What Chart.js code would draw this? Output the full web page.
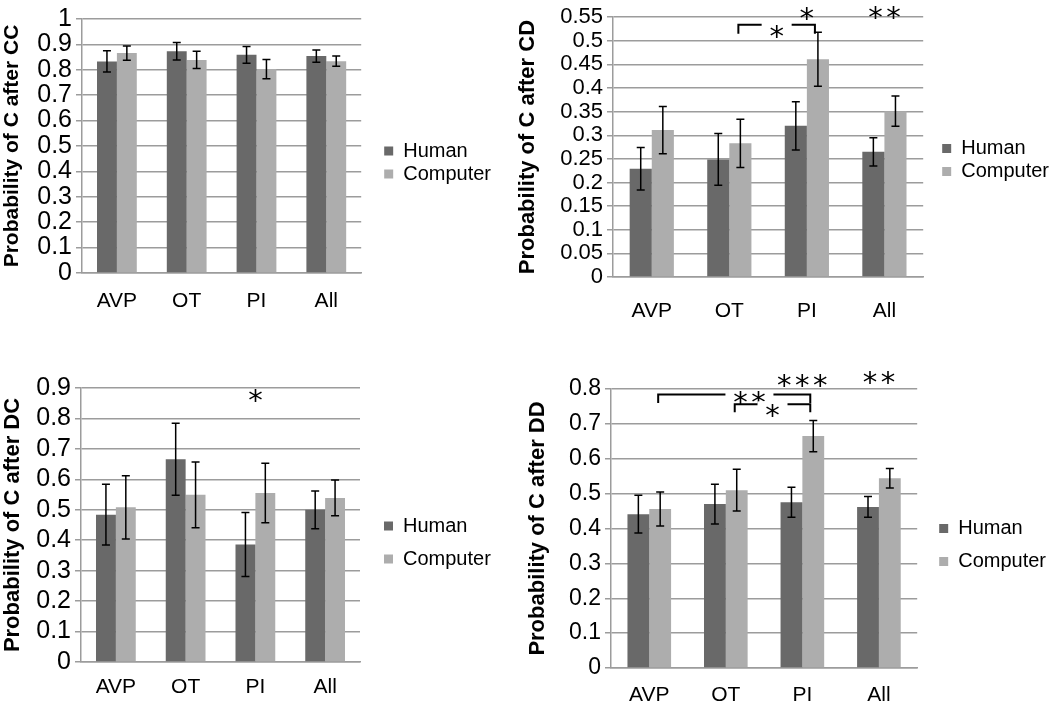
<!DOCTYPE html>
<html>
<head>
<meta charset="utf-8">
<script src="https://cdn.jsdelivr.net/npm/chart.js@4"></script>
<style>
  body { margin: 0; background: #fff; }
  .panel { position: absolute; }
</style>
</head>
<body>
<div class="panel" style="left:0;top:0"><canvas id="cc" width="505" height="345"></canvas></div>
<div class="panel" style="left:505px;top:0"><canvas id="cd" width="545" height="345"></canvas></div>
<div class="panel" style="left:0;top:345px"><canvas id="dc" width="505" height="360"></canvas></div>
<div class="panel" style="left:505px;top:345px"><canvas id="dd" width="545" height="360"></canvas></div>
<script>
// Datos
const categories = ['AVP', 'OT', 'PI', 'All'];

const ccHuman = [0.833, 0.873, 0.859, 0.854];
const ccHumanErr = [0.042, 0.034, 0.033, 0.024];
const ccComputer = [0.866, 0.839, 0.803, 0.834];
const ccComputerErr = [0.028, 0.034, 0.038, 0.020];

const cdHuman = [0.229, 0.249, 0.320, 0.265];
const cdHumanErr = [0.045, 0.055, 0.051, 0.030];
const cdComputer = [0.311, 0.283, 0.461, 0.351];
const cdComputerErr = [0.050, 0.051, 0.057, 0.032];

const dcHuman = [0.484, 0.666, 0.386, 0.500];
const dcHumanErr = [0.100, 0.118, 0.105, 0.062];
const dcComputer = [0.508, 0.549, 0.555, 0.539];
const dcComputerErr = [0.104, 0.108, 0.098, 0.059];

const ddHuman = [0.441, 0.470, 0.475, 0.462];
const ddHumanErr = [0.054, 0.057, 0.043, 0.030];
const ddComputer = [0.456, 0.510, 0.665, 0.544];
const ddComputerErr = [0.049, 0.060, 0.045, 0.028];

// Significancia (categoria, valor)
const cdBrackets = [{ from: 1, to: 2, y: 0.534, drop: 0.515, text: '*', at: 0.5, ty: 0.525 }];
const cdStars = [{ cat: 2, y: 0.563, text: '*' }, { cat: 3, y: 0.565, text: '**' }];
const dcBrackets = [];
const dcStars = [{ cat: 2, y: 0.883, text: '*' }];
const ddBrackets = [
  { from: 0, to: 2, y: 0.784, drop: 0.760, text: '**', at: 0.6, ty: 0.783 },
  { from: 1, to: 2, y: 0.756, drop: 0.733, text: '*', at: 0.5, ty: 0.746 }
];
const ddStars = [{ cat: 2, y: 0.832, text: '***' }, { cat: 3, y: 0.840, text: '**' }];

Chart.defaults.font.family = "'Liberation Sans', Arial, sans-serif";
Chart.defaults.color = '#000';

const GRID = '#9c9c9c';
const DARK = '#696969';
const LIGHT = '#adadad';

// Barras de error
const errorBars = {
  id: 'errorBars',
  afterDatasetsDraw(chart) {
    const ctx = chart.ctx, y = chart.scales.y;
    ctx.save();
    ctx.strokeStyle = '#000';
    ctx.lineWidth = 1.5;
    chart.data.datasets.forEach((ds, i) => {
      chart.getDatasetMeta(i).data.forEach((bar, j) => {
        const top = y.getPixelForValue(ds.data[j] + ds.err[j]);
        const bot = y.getPixelForValue(ds.data[j] - ds.err[j]);
        ctx.beginPath();
        ctx.moveTo(bar.x, top); ctx.lineTo(bar.x, bot);
        ctx.moveTo(bar.x - 4, top); ctx.lineTo(bar.x + 4, top);
        ctx.moveTo(bar.x - 4, bot); ctx.lineTo(bar.x + 4, bot);
        ctx.stroke();
      });
    });
    ctx.restore();
  }
};

function drawStars(ctx, text, cx, cy) {
  const gap = 18;
  const n = text.length;
  for (let k = 0; k < n; k++) {
    ctx.fillText('*', cx + (k - (n - 1) / 2) * gap, cy + 17);
  }
}

function makePanel(id, cfg) {
  const sigMarks = {
    id: 'sigMarks',
    afterDraw(chart) {
      const ctx = chart.ctx, y = chart.scales.y, x = chart.scales.x;
      const comp = chart.getDatasetMeta(1).data;
      ctx.save();
      ctx.strokeStyle = '#000';
      ctx.fillStyle = '#000';
      ctx.lineWidth = 2;
      ctx.font = "29px 'DejaVu Sans'";
      ctx.textAlign = 'center';
      cfg.brackets.forEach(b => {
        const x1 = comp[b.from].x - 2, x2 = comp[b.to].x - 3;
        const yl = y.getPixelForValue(b.y), yd = y.getPixelForValue(b.drop);
        ctx.beginPath();
        ctx.moveTo(x1, yd); ctx.lineTo(x1, yl); ctx.lineTo(x2, yl); ctx.lineTo(x2, yd);
        ctx.stroke();
        const tx = x1 + (x2 - x1) * b.at, ty = y.getPixelForValue(b.ty);
        const w = 18 * b.text.length + 12;
        ctx.save();
        ctx.fillStyle = '#fff';
        ctx.fillRect(tx - w / 2, yl - 3, w, 6);
        ctx.restore();
        drawStars(ctx, b.text, tx, ty);
      });
      cfg.stars.forEach(s => {
        drawStars(ctx, s.text, x.getPixelForValue(s.cat), y.getPixelForValue(s.y));
      });
      ctx.restore();
    }
  };

  const legendShift = {
    id: 'legendShift',
    afterLayout(chart) {
      const lg = chart.legend;
      lg.left += cfg.legendDx; lg.right += cfg.legendDx;
      lg.top += cfg.legendDy; lg.bottom += cfg.legendDy;
    }
  };

  return new Chart(document.getElementById(id), {
    type: 'bar',
    data: {
      labels: categories,
      datasets: [
        { label: 'Human', data: cfg.human, err: cfg.humanErr, backgroundColor: DARK },
        { label: 'Computer', data: cfg.computer, err: cfg.computerErr, backgroundColor: LIGHT }
      ]
    },
    options: {
      responsive: false,
      animation: false,
      barPercentage: 1,
      categoryPercentage: 0.57,
      layout: { padding: { top: cfg.padTop, right: cfg.padRight, left: 0, bottom: 0 } },
      scales: {
        x: {
          grid: { display: false, drawTicks: false },
          border: { display: true, color: GRID, width: 1.5 },
          ticks: { font: { size: 21 }, padding: cfg.xPad, color: '#000' },
          afterFit: s => { s.height = cfg.xHeight; }
        },
        y: {
          min: 0,
          max: cfg.max,
          grid: { color: GRID, lineWidth: 1.5, tickLength: 6, tickColor: GRID },
          border: { display: true, color: GRID, width: 1.5 },
          ticks: {
            stepSize: cfg.step,
            autoSkip: false,
            font: { size: cfg.tickSize },
            padding: 4,
            color: '#000',
            callback: v => String(+v.toFixed(2))
          },
          title: {
            display: true,
            text: cfg.title,
            font: { size: cfg.titleSize, weight: 'bold' },
            color: '#000',
            padding: { top: cfg.titlePad, bottom: 0 }
          },
          afterFit: s => { s.width = cfg.yWidth; }
        }
      },
      plugins: {
        legend: {
          position: 'right',
          labels: {
            boxWidth: 9,
            boxHeight: 9,
            padding: cfg.legendPad,
            font: { size: 20 },
            color: '#000'
          }
        },
        tooltip: { enabled: false }
      }
    },
    plugins: [errorBars, sigMarks, legendShift]
  });
}

makePanel('cc', {
  human: ccHuman, humanErr: ccHumanErr, computer: ccComputer, computerErr: ccComputerErr,
  max: 1, step: 0.1, title: 'Probability of C after CC', titleSize: 21, tickSize: 25,
  padTop: 10, padRight: 24, xHeight: 72, xPad: 16, yWidth: 82, titlePad: 0,
  legendPad: 3, legendDx: 20, legendDy: -15,
  brackets: [], stars: []
});

makePanel('cd', {
  human: cdHuman, humanErr: cdHumanErr, computer: cdComputer, computerErr: cdComputerErr,
  max: 0.55, step: 0.05, title: 'Probability of C after CD', titleSize: 22, tickSize: 22,
  padTop: 15, padRight: 7, xHeight: 68, xPad: 22, yWidth: 108, titlePad: 10,
  legendPad: 3, legendDx: 16, legendDy: -20,
  brackets: cdBrackets, stars: cdStars
});

makePanel('dc', {
  human: dcHuman, humanErr: dcHumanErr, computer: dcComputer, computerErr: dcComputerErr,
  max: 0.9, step: 0.1, title: 'Probability of C after DC', titleSize: 22, tickSize: 25,
  padTop: 43, padRight: 25, xHeight: 43, xPad: 13, yWidth: 81, titlePad: 0,
  legendPad: 13, legendDx: 11, legendDy: -4,
  brackets: dcBrackets, stars: dcStars
});

makePanel('dd', {
  human: ddHuman, humanErr: ddHumanErr, computer: ddComputer, computerErr: ddComputerErr,
  max: 0.8, step: 0.1, title: 'Probability of C after DD', titleSize: 22, tickSize: 23,
  padTop: 44, padRight: 3, xHeight: 37, xPad: 15, yWidth: 106, titlePad: 20,
  legendPad: 13, legendDx: 9, legendDy: -2,
  brackets: ddBrackets, stars: ddStars
});
</script>
</body>
</html>
